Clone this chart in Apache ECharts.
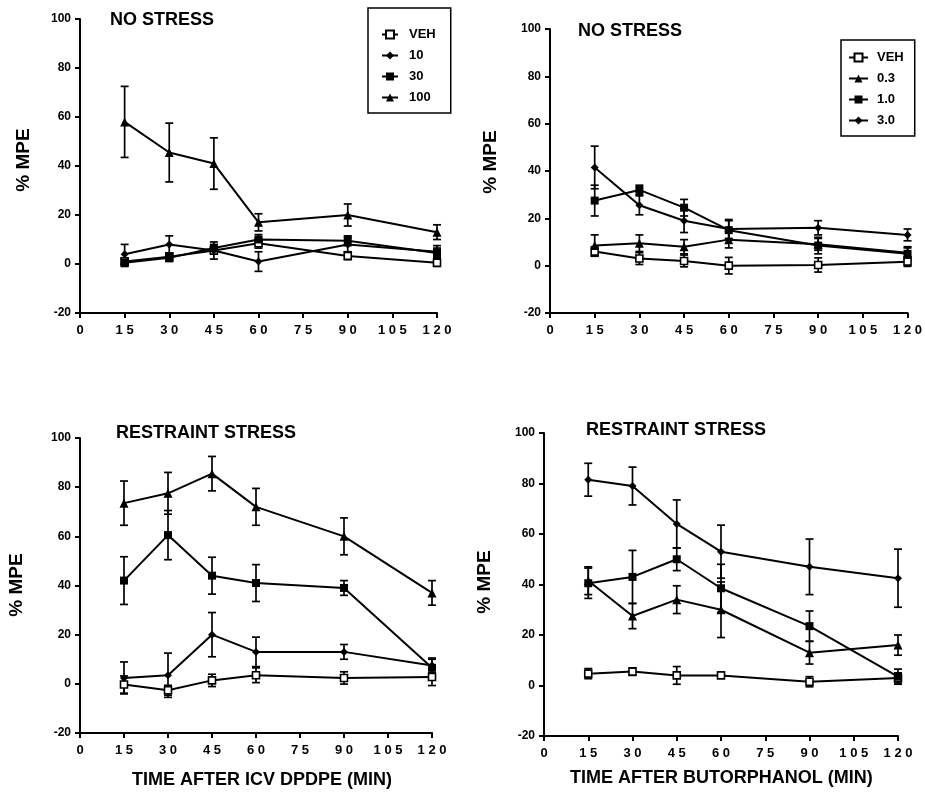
<!DOCTYPE html>
<html>
<head>
<meta charset="utf-8">
<title>% MPE after DPDPE and butorphanol</title>
<script src="https://cdn.jsdelivr.net/npm/echarts@6/dist/echarts.min.js"></script>
<style>
  html, body { margin: 0; padding: 0; background: #fff; }
  #chart { width: 925px; height: 792px; }
</style>
</head>
<body>
<div id="chart"></div>
<script>
// Sampling times (min)
const timePoints = [15, 30, 45, 60, 90, 120];

// Axis ranges
const xRange = { min: 0, max: 120, step: 15 };
const yRange = { min: -20, max: 100, step: 20 };

// DPDPE (icv), no stress — mean % MPE and SEM
const dpdpeNoStressVeh = [1, 3, 5.5, 8.5, 3.3, 0.5];
const dpdpeNoStressVehSem = [1.5, 1.5, 1.5, 2, 1.5, 1.5];
const dpdpeNoStress10 = [4, 8, 5.5, 1, 8, 5];
const dpdpeNoStress10Sem = [4, 3.5, 3.5, 4, 3, 2.5];
const dpdpeNoStress30 = [0.5, 2.5, 6.5, 10, 9.5, 4.5];
const dpdpeNoStress30Sem = [1.5, 1.5, 1.5, 2, 2, 2];
const dpdpeNoStress100 = [58, 45.5, 41, 17, 20, 13];
const dpdpeNoStress100Sem = [14.5, 12, 10.5, 3.5, 4.5, 3];

// Butorphanol, no stress
const butNoStressVeh = [6, 3, 2, 0, 0.3, 1.7];
const butNoStressVehSem = [2, 2.5, 2.5, 3.5, 3, 2];
const butNoStress03 = [8.5, 9.5, 8, 11, 9, 5.5];
const butNoStress03Sem = [4.5, 3.5, 3, 3.5, 2.5, 2.5];
const butNoStress10 = [27.5, 32, 24.5, 15, 8.5, 5];
const butNoStress10Sem = [6.5, 2, 3.5, 4, 3.5, 2.5];
const butNoStress30 = [41.5, 25.5, 19, 15.5, 16, 13];
const butNoStress30Sem = [9, 4, 5, 4, 3, 2.5];

// DPDPE (icv), restraint stress
const dpdpeStressVeh = [-0.3, -2.6, 1.4, 3.5, 2.4, 2.8];
const dpdpeStressVehSem = [3.5, 2, 2.5, 3, 2.5, 3.5];
const dpdpeStress10 = [2.4, 3.5, 20, 13, 13, 7.5];
const dpdpeStress10Sem = [6.5, 9, 9, 6, 3, 3];
const dpdpeStress30 = [42, 60.5, 44, 41, 39, 6.5];
const dpdpeStress30Sem = [9.7, 10, 7.5, 7.5, 3, 3.5];
const dpdpeStress100 = [73.5, 77.5, 85.5, 72, 60, 37];
const dpdpeStress100Sem = [9, 8.5, 7, 7.5, 7.5, 5];

// Butorphanol, restraint stress
const butStressVeh = [4.7, 5.5, 4, 4, 1.5, 3];
const butStressVehSem = [2, 1.5, 3.5, 1, 2, 2];
const butStress03 = [41.5, 27.5, 34, 30, 13, 16];
const butStress03Sem = [5.5, 5, 5.5, 11, 4.5, 4];
const butStress10 = [40.5, 43, 50, 38.5, 23.5, 3.5];
const butStress10Sem = [6, 10.5, 4.5, 9.5, 6, 3];
const butStress30 = [81.5, 79, 64, 53, 47, 42.5];
const butStress30Sem = [6.5, 7.5, 9.5, 10.5, 11, 11.5];

// Legend entries
const dpdpeDoses = ['VEH', '10', '30', '100'];
const butDoses = ['VEH', '0.3', '1.0', '3.0'];

// Text
const panelTitles = ['NO STRESS', 'NO STRESS', 'RESTRAINT STRESS', 'RESTRAINT STRESS'];
const yAxisTitle = '% MPE';
const xAxisTitles = ['TIME AFTER ICV DPDPE (MIN)', 'TIME AFTER BUTORPHANOL (MIN)'];

const FONT = 'Liberation Sans, Arial, Helvetica, sans-serif';
const INK = '#000';

const grids = [
  { left: 80, top: 19, width: 357, height: 294 },
  { left: 550, top: 29, width: 359, height: 284 },
  { left: 80, top: 438, width: 352, height: 295 },
  { left: 544, top: 433, width: 354, height: 303 }
];

// Marker look per dose position (VEH, low, mid, high)
const dpdpeMarks = [
  { symbol: 'rect', size: 7, open: true },
  { symbol: 'diamond', size: 8, open: false },
  { symbol: 'rect', size: 8, open: false },
  { symbol: 'triangle', size: 9, open: false }
];
const butMarks = [
  { symbol: 'rect', size: 7, open: true },
  { symbol: 'triangle', size: 9, open: false },
  { symbol: 'rect', size: 8, open: false },
  { symbol: 'diamond', size: 8, open: false }
];

const panels = [
  { names: dpdpeDoses, marks: dpdpeMarks,
    means: [dpdpeNoStressVeh, dpdpeNoStress10, dpdpeNoStress30, dpdpeNoStress100],
    sems: [dpdpeNoStressVehSem, dpdpeNoStress10Sem, dpdpeNoStress30Sem, dpdpeNoStress100Sem] },
  { names: butDoses, marks: butMarks,
    means: [butNoStressVeh, butNoStress03, butNoStress10, butNoStress30],
    sems: [butNoStressVehSem, butNoStress03Sem, butNoStress10Sem, butNoStress30Sem] },
  { names: dpdpeDoses, marks: dpdpeMarks,
    means: [dpdpeStressVeh, dpdpeStress10, dpdpeStress30, dpdpeStress100],
    sems: [dpdpeStressVehSem, dpdpeStress10Sem, dpdpeStress30Sem, dpdpeStress100Sem] },
  { names: butDoses, marks: butMarks,
    means: [butStressVeh, butStress03, butStress10, butStress30],
    sems: [butStressVehSem, butStress03Sem, butStress10Sem, butStress30Sem] }
];

function errorBarItem(params, api) {
  const x = api.value(0), y = api.value(1), e = api.value(2);
  const hi = api.coord([x, y + e]);
  const lo = api.coord([x, y - e]);
  const cap = 4;
  const st = { stroke: INK, lineWidth: 1.7 };
  return {
    type: 'group',
    children: [
      { type: 'line', shape: { x1: hi[0], y1: hi[1], x2: lo[0], y2: lo[1] }, style: st },
      { type: 'line', shape: { x1: hi[0] - cap, y1: hi[1], x2: hi[0] + cap, y2: hi[1] }, style: st },
      { type: 'line', shape: { x1: lo[0] - cap, y1: lo[1], x2: lo[0] + cap, y2: lo[1] }, style: st }
    ]
  };
}

const xAxes = [], yAxes = [], series = [];
panels.forEach((p, i) => {
  xAxes.push({
    gridIndex: i, type: 'value', min: xRange.min, max: xRange.max, interval: xRange.step,
    axisLine: { show: true, onZero: false, lineStyle: { color: INK, width: 2 } },
    axisTick: { show: true, length: 5, lineStyle: { color: INK, width: 2 } },
    axisLabel: { color: INK, fontFamily: FONT, fontSize: 13, fontWeight: 'bold', margin: 11,
      formatter: v => String(v).split('').join(' ') },
    splitLine: { show: false }
  });
  yAxes.push({
    gridIndex: i, type: 'value', min: yRange.min, max: yRange.max, interval: yRange.step,
    axisLine: { show: true, onZero: false, lineStyle: { color: INK, width: 2 } },
    axisTick: { show: true, length: 5, lineStyle: { color: INK, width: 2 } },
    axisLabel: { color: INK, fontFamily: FONT, fontSize: 12, fontWeight: 'bold', margin: 9 },
    splitLine: { show: false }
  });
  p.names.forEach((name, k) => {
    const m = p.marks[k];
    series.push({
      type: 'custom', name: name + ' SEM', xAxisIndex: i, yAxisIndex: i,
      renderItem: errorBarItem, silent: true, z: 2,
      encode: { x: 0, y: 1 },
      data: timePoints.map((t, j) => [t, p.means[k][j], p.sems[k][j]])
    });
    series.push({
      type: 'line', name: name, xAxisIndex: i, yAxisIndex: i, z: 3,
      symbol: m.symbol, symbolSize: m.size, showSymbol: true,
      lineStyle: { color: INK, width: 2 },
      itemStyle: { color: m.open ? '#fff' : INK, borderColor: INK, borderWidth: m.open ? 1.6 : 0 },
      emphasis: { disabled: true },
      data: timePoints.map((t, j) => [t, p.means[k][j]])
    });
  });
});

const legendText = { color: INK, fontFamily: FONT, fontSize: 13, fontWeight: 'bold' };

const option = {
  animation: false,
  backgroundColor: '#fff',
  textStyle: { fontFamily: FONT },
  grid: grids,
  xAxis: xAxes,
  yAxis: yAxes,
  title: [
    { text: panelTitles[0], left: 110, top: 11 },
    { text: panelTitles[1], left: 578, top: 22 },
    { text: panelTitles[2], left: 116, top: 424 },
    { text: panelTitles[3], left: 586, top: 421 },
    { text: xAxisTitles[0], left: 132, top: 771 },
    { text: xAxisTitles[1], left: 570, top: 769 }
  ].map(t => Object.assign(t, {
    padding: 0,
    textStyle: { color: INK, fontFamily: FONT, fontSize: 18, fontWeight: 'bold' }
  })),
  legend: [
    { data: dpdpeDoses, orient: 'vertical', left: 368, top: 8,
      itemWidth: 16, itemHeight: 10, itemGap: 8, padding: [20, 15, 9, 13],
      borderColor: INK, borderWidth: 1.5, selectedMode: false,
      textStyle: Object.assign({ padding: [0, 0, 0, 6] }, legendText) },
    { data: butDoses, orient: 'vertical', left: 841, top: 40,
      itemWidth: 19, itemHeight: 10, itemGap: 8, padding: [11, 11, 9, 7],
      borderColor: INK, borderWidth: 1.5, selectedMode: false,
      textStyle: Object.assign({ padding: [0, 0, 0, 4] }, legendText) }
  ],
  graphic: [
    [24, 160], [491, 162], [17, 585], [485, 582]
  ].map(([x, y]) => ({
    type: 'text', x: x, y: y, rotation: Math.PI / 2,
    style: { text: yAxisTitle, font: 'bold 19px ' + FONT, fill: INK,
      align: 'center', verticalAlign: 'middle', textAlign: 'center', textVerticalAlign: 'middle' }
  })),
  series: series
};

const chart = echarts.init(document.getElementById('chart'), null, { renderer: 'canvas' });
chart.setOption(option);
</script>
</body>
</html>
